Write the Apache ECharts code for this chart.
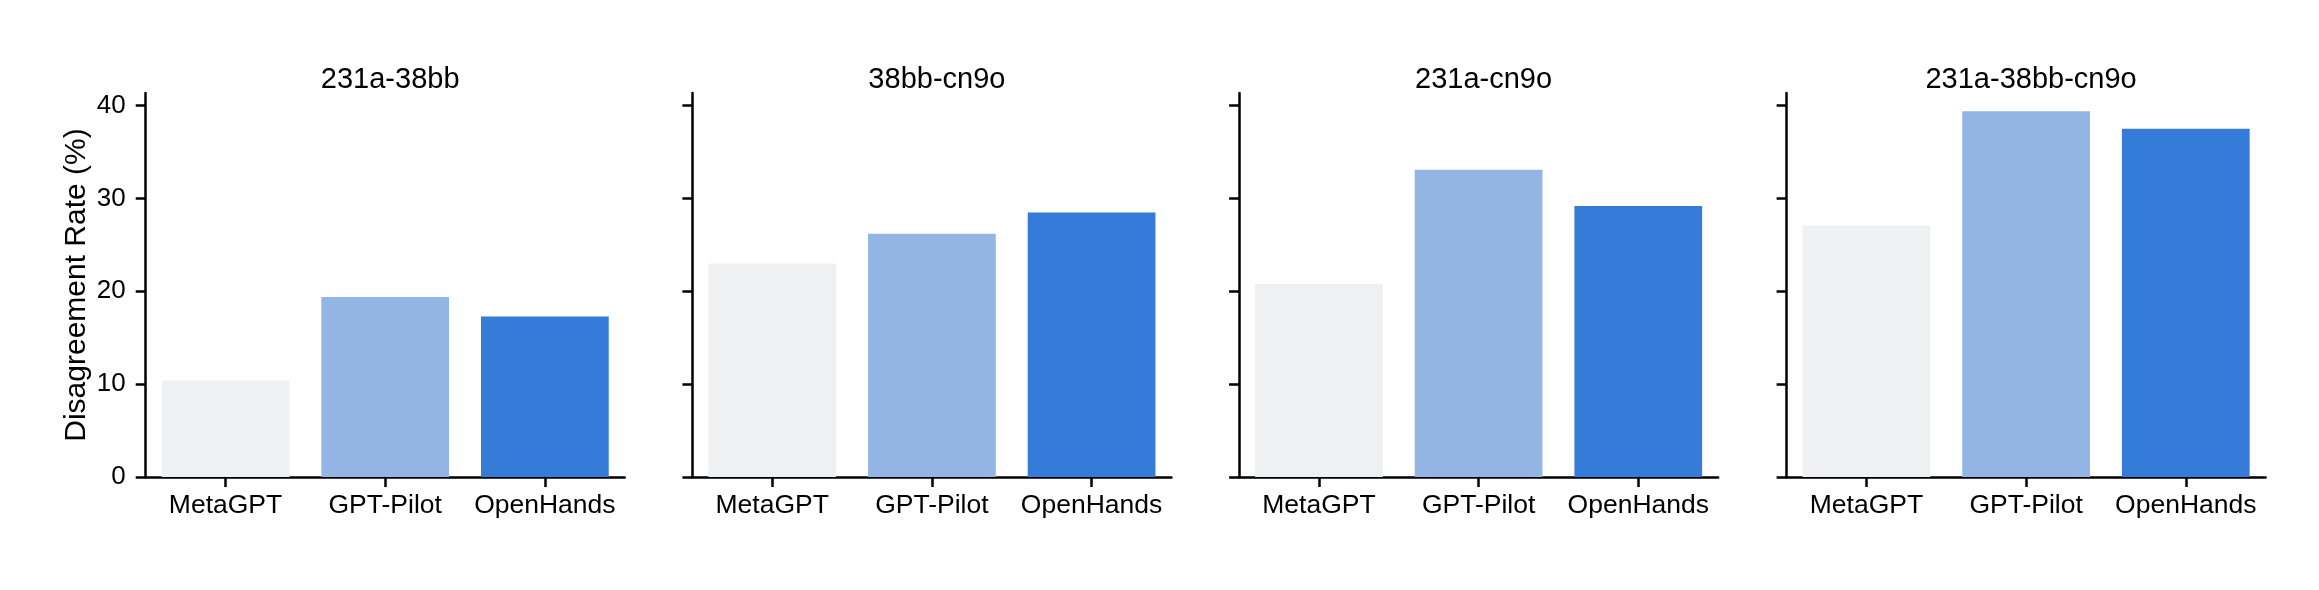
<!DOCTYPE html>
<html>
<head>
<meta charset="utf-8">
<script src="https://cdn.jsdelivr.net/npm/echarts@6/dist/echarts.min.js"></script>
<style>
html,body{margin:0;padding:0;background:#fff;}
#chart{width:2319px;height:590px;}
</style>
</head>
<body>
<div id="chart"></div>
<script>
// ---- data ----
const categories = ['MetaGPT', 'GPT-Pilot', 'OpenHands'];
const panelTitles = ['231a-38bb', '38bb-cn9o', '231a-cn9o', '231a-38bb-cn9o'];
const values_231a_38bb = [10.4, 19.4, 17.3];
const values_38bb_cn9o = [23.0, 26.2, 28.5];
const values_231a_cn9o = [20.8, 33.1, 29.2];
const values_231a_38bb_cn9o = [27.1, 39.4, 37.5];
const yTicks = [0, 10, 20, 30, 40];
const yMax = 41.36;
const yLabel = 'Disagreement Rate (%)';
const barColors = ['#EFF0F2', '#93B5E4', '#357CD8'];

const panelValues = [values_231a_38bb, values_38bb_cn9o, values_231a_cn9o, values_231a_38bb_cn9o];

// ---- layout ----
const FONT = '"Liberation Sans", Arial, sans-serif';
const gridLefts = [145.7, 692.4, 1239.1, 1786.6];
const gridWidth = 479;
const gridTop = 93;
const gridBottomY = 477;

const grids = [], xAxes = [], yAxes = [], series = [], titles = [];
gridLefts.forEach((l, i) => {
  grids.push({left: l, top: gridTop, width: gridWidth, height: gridBottomY - gridTop, containLabel: false});
  titles.push({
    text: panelTitles[i],
    left: l + gridWidth / 2,
    top: 60,
    textAlign: 'center',
    textStyle: {fontFamily: FONT, fontSize: 29, fontWeight: 'normal', color: '#000'}
  });
  xAxes.push({
    type: 'category', gridIndex: i, data: categories,
    axisLine: {show: true, lineStyle: {color: '#000', width: 2.5}},
    axisTick: {show: true, alignWithLabel: true, length: 10, lineStyle: {color: '#000', width: 2.5}},
    axisLabel: {interval: 0, hideOverlap: false, fontFamily: FONT, fontSize: 26.5, color: '#000', margin: 15},
    splitLine: {show: false}
  });
  yAxes.push({
    type: 'value', gridIndex: i, min: 0, max: yMax,
    name: i === 0 ? yLabel : '',
    nameLocation: 'middle', nameGap: 54,
    nameTextStyle: {fontFamily: FONT, fontSize: 30, color: '#000'},
    axisLine: {show: true, lineStyle: {color: '#000', width: 2.5}},
    axisTick: {show: true, length: 10, customValues: yTicks, lineStyle: {color: '#000', width: 2.5}},
    axisLabel: {show: i === 0, customValues: yTicks, fontFamily: FONT, fontSize: 26, color: '#000', margin: 20},
    splitLine: {show: false}
  });
  series.push({
    type: 'bar', xAxisIndex: i, yAxisIndex: i,
    barCategoryGap: '20%',
    data: panelValues[i].map((v, k) => ({value: v, itemStyle: {color: barColors[k]}})),
    animation: false
  });
});

const chart = echarts.init(document.getElementById('chart'), null, {renderer: 'canvas'});
chart.setOption({
  animation: false,
  backgroundColor: '#fff',
  title: titles,
  grid: grids,
  xAxis: xAxes,
  yAxis: yAxes,
  series: series
});
</script>
</body>
</html>
